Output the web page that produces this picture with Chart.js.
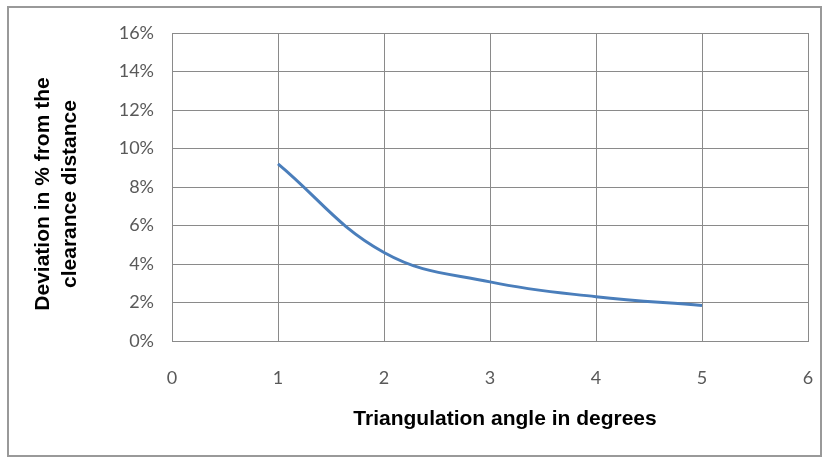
<!DOCTYPE html>
<html>
<head>
<meta charset="utf-8">
<script src="https://cdn.jsdelivr.net/npm/chart.js@4"></script>
<style>
  html, body { margin: 0; padding: 0; background: #fff; }
  #wrap { width: 826px; height: 459px; position: relative; }
</style>
</head>
<body>
<div id="wrap"><canvas id="devChart"></canvas></div>
<script>
// triangulation angle (degrees) vs. deviation (% of clearance distance)
const angles = [1, 2, 3, 4, 5];
const deviation = [9.2, 4.6, 3.07, 2.3, 1.84];
const xTicks = [0, 1, 2, 3, 4, 5, 6];
const yTicks = [0, 2, 4, 6, 8, 10, 12, 14, 16];
const xTitle = 'Triangulation angle in degrees';
const yTitle = ['Deviation in % from the', 'clearance distance'];

const tickFont = { family: 'Lato, "Open Sans", sans-serif', size: 18 };
const titleFont = 'bold 21px "Liberation Sans", Arial, sans-serif';
const gridColor = '#8a8a8a';

// white background, outer frame and the two axis titles
const framePlugin = {
  id: 'frame',
  beforeDraw(chart) {
    const c = chart.ctx;
    c.save();
    c.fillStyle = '#fff';
    c.fillRect(0, 0, chart.width, chart.height);
    c.strokeStyle = '#999';
    c.lineWidth = 2;
    c.strokeRect(8, 7, 813, 449);
    c.restore();
  },
  afterDraw(chart) {
    const c = chart.ctx;
    c.save();
    c.fillStyle = '#000';
    c.font = titleFont;
    c.textAlign = 'center';
    c.textBaseline = 'middle';
    c.fillText(xTitle, 505, 419);
    c.translate(0, 194);
    c.rotate(-Math.PI / 2);
    c.fillText(yTitle[0], 0, 43);
    c.fillText(yTitle[1], 0, 70);
    c.restore();
  }
};

new Chart(document.getElementById('devChart').getContext('2d'), {
  type: 'scatter',
  data: {
    datasets: [{
      data: angles.map((a, i) => ({ x: a, y: deviation[i] })),
      showLine: true,
      borderColor: '#4A7EBB',
      borderWidth: 3,
      pointRadius: 0,
      tension: 0.4,
      fill: false
    }]
  },
  options: {
    responsive: true,
    maintainAspectRatio: false,
    animation: false,
    layout: { padding: { top: 33, right: 18, bottom: 0, left: 0 } },
    plugins: { legend: { display: false }, tooltip: { enabled: false } },
    scales: {
      x: {
        type: 'linear',
        min: 0, max: 6,
        afterBuildTicks: s => { s.ticks = xTicks.map(v => ({ value: v })); },
        afterFit: s => { s.height = 118; s.paddingLeft = 0; s.paddingRight = 0; },
        ticks: { font: tickFont, color: '#595959', padding: 26 },
        grid: { color: gridColor, lineWidth: 1, drawTicks: false },
        border: { color: gridColor }
      },
      y: {
        type: 'linear',
        min: 0, max: 16,
        afterBuildTicks: s => { s.ticks = yTicks.map(v => ({ value: v })); },
        afterFit: s => { s.width = 172; s.paddingTop = 0; s.paddingBottom = 0; },
        ticks: { font: tickFont, color: '#595959', padding: 18, callback: v => v + '%' },
        grid: { color: gridColor, lineWidth: 1, drawTicks: false },
        border: { color: gridColor }
      }
    }
  },
  plugins: [framePlugin]
});
</script>
</body>
</html>
